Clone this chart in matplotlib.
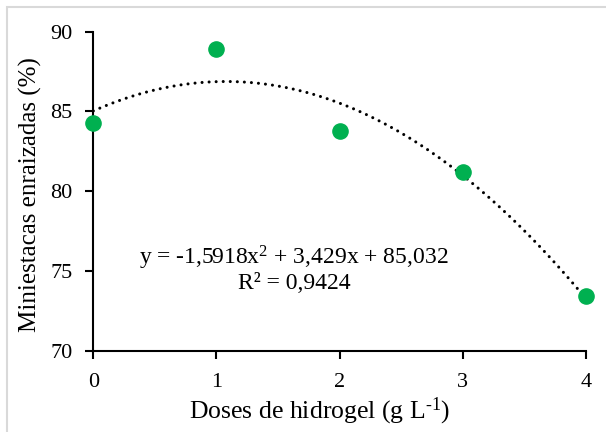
import numpy as np
import matplotlib
matplotlib.use("Agg")
import matplotlib.pyplot as plt
from matplotlib.patches import Rectangle

doses = [0, 1, 2, 3, 4]
enraizadas = [84.3, 88.9, 83.8, 81.2, 73.4]
coef = [-1.5918, 3.429, 85.032]  # a, b, c of the trend line
equation = "y = -1,5918x$^{\\text{2}}$ + 3,429x + 85,032"
r2_text = "R² = 0,9424"
xticks = [0, 1, 2, 3, 4]
yticks = [70, 75, 80, 85, 90]

plt.rcParams['font.family'] = ['Liberation Serif', 'DejaVu Serif']
plt.rcParams['mathtext.fontset'] = 'custom'
plt.rcParams['mathtext.rm'] = 'Liberation Serif'
plt.rcParams['mathtext.it'] = 'Liberation Serif:italic'

fig = plt.figure(figsize=(6.06, 4.32), dpi=100)
ax = fig.add_axes([0.154, 0.1882, 0.8125, 0.7384])

# light chart-area border
fig.patches.append(Rectangle((6.5/606, -0.05), 1.2, 1 - 6.5/432 + 0.05,
                             transform=fig.transFigure, fill=False,
                             edgecolor='#d9d9d9', linewidth=1.5))

xs = np.linspace(0, 4, 200)
ys = np.polyval(coef, xs)
ax.plot(xs, ys, color='black', linewidth=2.2, linestyle=(0, (0.01, 2.3)),
        dash_capstyle='round', zorder=2)
ax.scatter(doses, enraizadas, s=120, color='#00B050', zorder=3, clip_on=False)

ax.set_xlim(0, 4)
ax.set_ylim(70, 90)
ax.set_xticks(xticks)
ax.set_yticks(yticks)
for s in ['top', 'right']:
    ax.spines[s].set_visible(False)
for s in ['left', 'bottom']:
    ax.spines[s].set_linewidth(1.5)
ax.tick_params(axis='both', direction='out', length=6, width=1.5,
               labelsize=16)
ax.tick_params(axis='x', pad=10)
ax.tick_params(axis='y', pad=9)

ax.set_xlabel("Doses de hidrogel (g L$^{\\text{-1}}$)", fontsize=18.5)
ax.xaxis.set_label_coords(0.46, -0.14)
ax.set_ylabel("Miniestacas enraizadas (%)", fontsize=18)
ax.yaxis.set_label_coords(-0.104, 0.49)

ax.text(1.63, 75.81, equation, fontsize=17, ha='center', va='center')
ax.text(1.63, 74.24, r2_text, fontsize=17, ha='center', va='center')

fig.savefig("out.png", dpi=100)
